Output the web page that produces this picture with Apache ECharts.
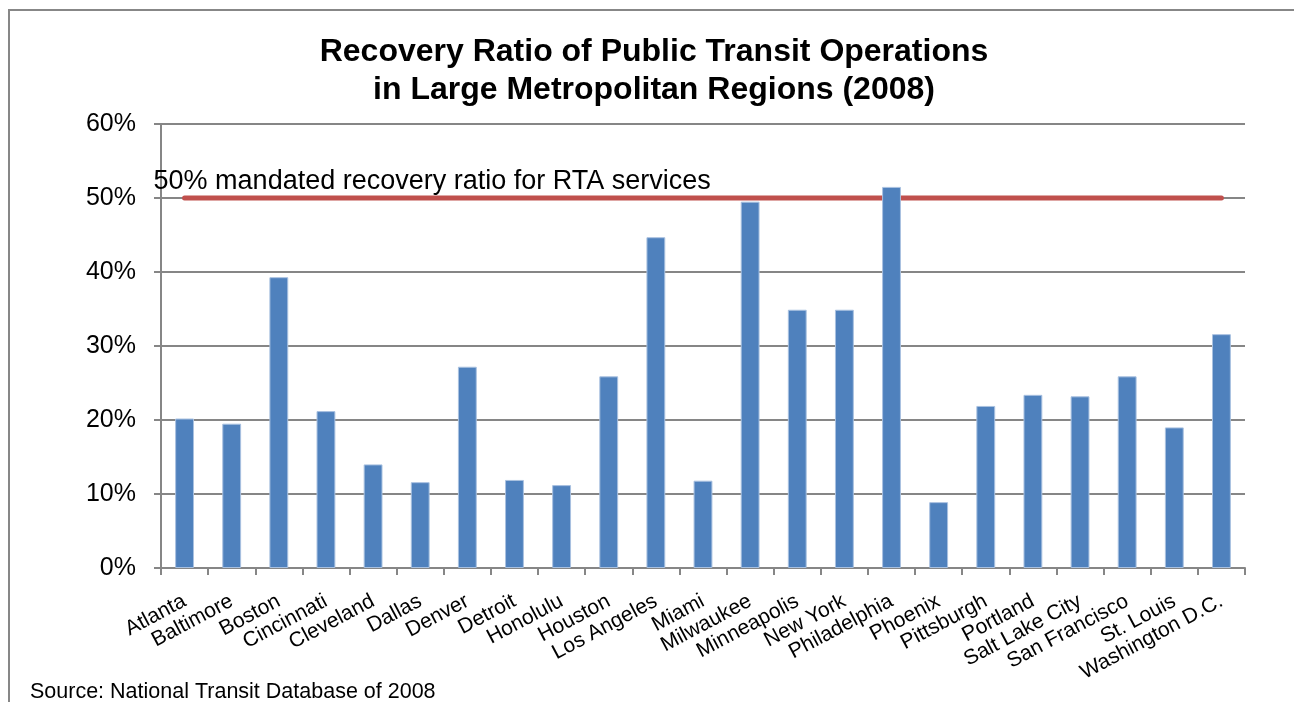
<!DOCTYPE html>
<html>
<head>
<meta charset="utf-8">
<script src="https://cdn.jsdelivr.net/npm/echarts@6/dist/echarts.min.js"></script>
<style>
  html, body { margin: 0; padding: 0; background: #fff; }
  #chart { width: 1294px; height: 702px; }
</style>
</head>
<body>
<div id="chart"></div>
<script>
const titleLines = ['Recovery Ratio of Public Transit Operations', 'in Large Metropolitan Regions (2008)'];
const categories = ['Atlanta', 'Baltimore', 'Boston', 'Cincinnati', 'Cleveland', 'Dallas', 'Denver', 'Detroit',
  'Honolulu', 'Houston', 'Los Angeles', 'Miami', 'Milwaukee', 'Minneapolis', 'New York', 'Philadelphia',
  'Phoenix', 'Pittsburgh', 'Portland', 'Salt Lake City', 'San Francisco', 'St. Louis', 'Washington D.C.'];
const recoveryRatio = [20.2, 19.5, 39.3, 21.2, 14.0, 11.6, 27.2, 11.9, 11.2, 25.9, 44.7, 11.8,
  49.5, 34.9, 34.9, 51.5, 8.9, 21.9, 23.4, 23.2, 25.9, 19.0, 31.6];
const mandatedRatio = 50;
const mandateLabel = '50% mandated recovery ratio for RTA services';
const yTicks = { min: 0, max: 60, interval: 10 };
const sourceText = 'Source: National Transit Database of 2008';

const font = '"Liberation Sans", Arial, sans-serif';
const chart = echarts.init(document.getElementById('chart'));
const mandateData = categories.map((c, i) => i === 0 ? {
  value: mandatedRatio,
  label: {
    show: true, position: 'top', align: 'left', offset: [-31, 3],
    formatter: mandateLabel, fontSize: 27, color: '#000', fontFamily: font
  }
} : mandatedRatio);

chart.setOption({
  animation: false,
  backgroundColor: '#fff',
  textStyle: { fontFamily: font },
  title: {
    text: titleLines.join('\n'),
    left: 649, top: 28, textAlign: 'center',
    textStyle: { fontSize: 32, fontWeight: 'bold', color: '#000', lineHeight: 38, fontFamily: font }
  },
  graphic: [
    { type: 'rect', shape: { x: 9, y: 10, width: 1300, height: 720 }, style: { fill: 'none', stroke: '#878787', lineWidth: 2 }, silent: true },
    { type: 'text', left: 30, top: 681, style: { text: sourceText, fill: '#000', font: '21.5px ' + font } }
  ],
  grid: { left: 161, right: 49, top: 124, bottom: 134, containLabel: false },
  xAxis: {
    type: 'category', data: categories,
    axisLine: { lineStyle: { color: '#868686', width: 2 } },
    axisTick: { show: true, length: 7, lineStyle: { color: '#868686', width: 2 } },
    axisLabel: { interval: 0, rotate: 28, fontSize: 21, color: '#000', margin: 32, fontFamily: font }
  },
  yAxis: {
    type: 'value', min: yTicks.min, max: yTicks.max, interval: yTicks.interval,
    axisLine: { show: true, lineStyle: { color: '#868686', width: 2 } },
    axisTick: { show: true, length: 7, lineStyle: { color: '#868686', width: 2 } },
    axisLabel: { formatter: v => v + '%', fontSize: 25, color: '#000', margin: 25, fontFamily: font },
    splitLine: { lineStyle: { color: '#868686', width: 2 } }
  },
  series: [
    {
      type: 'line', data: mandateData, z: 2,
      symbol: 'circle', symbolSize: 1, showSymbol: true,
      itemStyle: { color: '#C0504D' },
      lineStyle: { color: '#C0504D', width: 5, cap: 'round' }
    },
    {
      type: 'bar', data: recoveryRatio, z: 3, barWidth: '40%',
      itemStyle: { color: '#4F81BD', borderColor: '#A9C1E0', borderWidth: 1 }
    }
  ]
});
</script>
</body>
</html>
